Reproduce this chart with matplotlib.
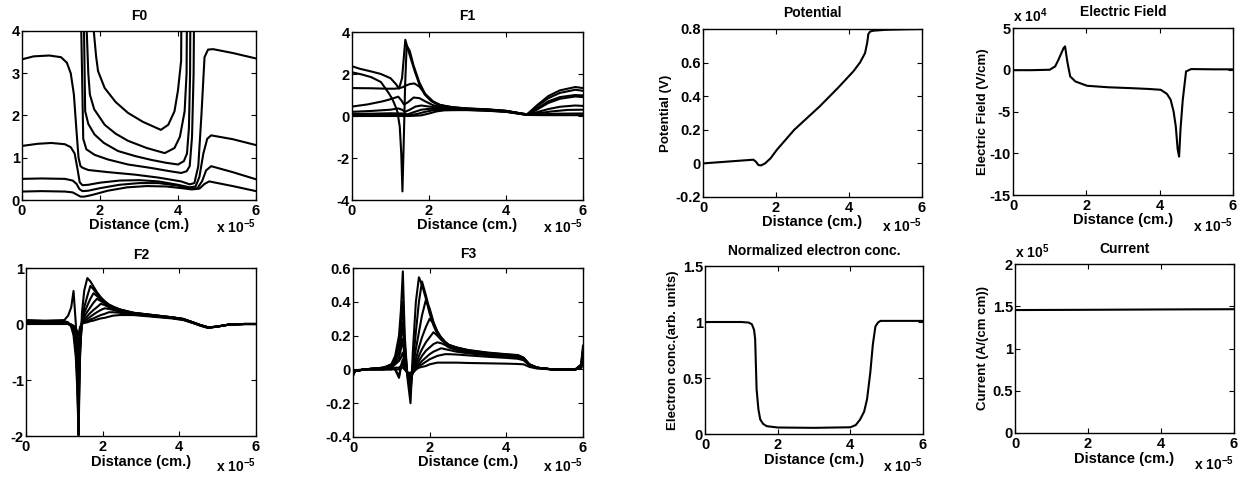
import matplotlib
matplotlib.use("Agg")
import matplotlib.pyplot as plt
from matplotlib.ticker import FuncFormatter

plt.rcParams['font.family'] = ['Liberation Sans', 'DejaVu Sans']
plt.rcParams['font.weight'] = 'bold'
plt.rcParams['axes.unicode_minus'] = False
plt.rcParams['mathtext.fontset'] = 'custom'
plt.rcParams['mathtext.bf'] = 'Liberation Sans:bold'
plt.rcParams['mathtext.rm'] = 'Liberation Sans:bold'
plt.rcParams['mathtext.default'] = 'bf'

# ---------------- data (distance in units of 1e-5 cm) ----------------
# F0
f0_c1_x = [0, 0.3, 0.7, 1.0, 1.15, 1.25, 1.33, 1.40, 1.45, 1.50, 1.56, 1.7, 2.2, 2.9, 3.5, 4.08, 4.3, 4.42, 4.52, 4.60, 4.68, 4.77, 4.9, 5.4, 6.0]
f0_c1_y = [3.33, 3.40, 3.42, 3.38, 3.25, 3.0, 2.5, 1.6, 1.0, 0.8, 0.76, 0.71, 0.66, 0.60, 0.53, 0.44, 0.37, 0.40, 0.8, 2.0, 3.38, 3.56, 3.57, 3.48, 3.35]
f0_c2_x = [0, 0.4, 0.75, 1.1, 1.25, 1.35, 1.42, 1.48, 1.55, 1.7, 2.0, 2.5, 3.0, 3.5, 4.0, 4.3, 4.45, 4.55, 4.65, 4.75, 4.85, 5.4, 6.0]
f0_c2_y = [1.28, 1.33, 1.35, 1.32, 1.25, 1.1, 0.75, 0.42, 0.35, 0.36, 0.41, 0.46, 0.47, 0.44, 0.36, 0.30, 0.32, 0.55, 1.1, 1.45, 1.53, 1.44, 1.30]
f0_c3_x = [0, 0.5, 1.1, 1.3, 1.4, 1.47, 1.55, 1.7, 2.0, 2.5, 3.0, 3.5, 4.0, 4.3, 4.5, 4.62, 4.72, 4.85, 5.4, 6.0]
f0_c3_y = [0.50, 0.51, 0.50, 0.46, 0.38, 0.26, 0.21, 0.22, 0.28, 0.36, 0.40, 0.40, 0.34, 0.27, 0.28, 0.45, 0.70, 0.80, 0.66, 0.49]
f0_c4_x = [0, 0.5, 1.1, 1.3, 1.42, 1.5, 1.6, 1.8, 2.2, 2.7, 3.2, 3.7, 4.1, 4.35, 4.55, 4.68, 4.8, 5.4, 6.0]
f0_c4_y = [0.20, 0.21, 0.20, 0.18, 0.12, 0.08, 0.08, 0.12, 0.22, 0.30, 0.33, 0.32, 0.28, 0.25, 0.27, 0.38, 0.44, 0.33, 0.21]
f0_u4_x = [1.40, 1.50, 1.54, 1.57, 1.65, 1.86, 2.2, 2.72, 3.3, 3.8, 4.08, 4.22, 4.30, 4.36, 4.40, 4.45]
f0_u4_y = [9, 5, 3.0, 1.45, 1.2, 1.07, 0.96, 0.84, 0.76, 0.68, 0.64, 0.68, 0.8, 1.5, 3.0, 9]
f0_u3_x = [1.56, 1.59, 1.62, 1.7, 1.86, 2.1, 2.46, 2.9, 3.31, 3.7, 4.0, 4.15, 4.23, 4.28, 4.31, 4.34]
f0_u3_y = [9, 4.0, 2.1, 1.8, 1.55, 1.35, 1.16, 1.04, 0.95, 0.88, 0.84, 0.92, 1.1, 1.7, 3.0, 9]
f0_u2_x = [1.63, 1.66, 1.70, 1.74, 1.85, 2.12, 2.4, 2.72, 3.2, 3.66, 3.91, 4.05, 4.17, 4.22, 4.26]
f0_u2_y = [9, 4.0, 3.0, 2.5, 2.15, 1.78, 1.57, 1.40, 1.23, 1.11, 1.23, 1.5, 2.1, 3.0, 9]
f0_u1_x = [1.80, 1.84, 1.90, 1.95, 2.12, 2.4, 2.72, 3.1, 3.56, 3.75, 3.91, 4.0, 4.08, 4.12]
f0_u1_y = [9, 4.0, 3.4, 3.05, 2.65, 2.32, 2.06, 1.85, 1.66, 1.78, 2.1, 2.6, 3.29, 9]

# F1
f1_a_x = [0, 0.2, 0.5, 0.75, 1.0, 1.15, 1.22, 1.30, 1.385, 1.45, 1.55, 1.63, 1.75, 1.89, 2.05, 2.23, 2.6, 3.0, 3.5, 4.0, 4.3, 4.55, 4.8, 5.1, 5.4, 5.8, 6.0]
f1_a_y = [2.37, 2.25, 2.12, 2.0, 1.8, 1.5, 1.3, 1.8, 3.63, 3.2, 2.6, 2.13, 1.5, 1.02, 0.72, 0.54, 0.42, 0.36, 0.32, 0.25, 0.15, 0.08, 0.5, 0.95, 1.22, 1.38, 1.33]
f1_b_x = [0, 0.25, 0.5, 0.75, 0.95, 1.05, 1.12, 1.18, 1.24, 1.28, 1.31, 1.34, 1.38, 1.42, 1.5, 1.6, 1.75, 1.9, 2.1, 2.3, 2.6, 3.0, 3.5, 4.0, 4.3, 4.55, 4.8, 5.1, 5.4, 5.8, 6.0]
f1_b_y = [2.08, 1.98, 1.85, 1.62, 1.1, 0.8, 0.5, 0.2, -0.5, -1.8, -3.59, -1.5, 1.5, 3.35, 3.1, 2.4, 1.6, 1.05, 0.68, 0.5, 0.4, 0.35, 0.31, 0.24, 0.15, 0.08, 0.45, 0.85, 1.1, 1.25, 1.2]
f1_c_x = [0, 0.5, 0.9, 1.1, 1.2, 1.3, 1.4, 1.5, 1.62, 1.75, 1.9, 2.1, 2.3, 2.6, 3.0, 3.5, 4.0, 4.3, 4.55, 4.8, 5.1, 5.4, 5.8, 6.0]
f1_c_y = [1.33, 1.32, 1.30, 1.30, 1.32, 1.36, 1.45, 1.52, 1.55, 1.4, 1.05, 0.7, 0.52, 0.42, 0.35, 0.31, 0.24, 0.15, 0.07, 0.35, 0.7, 0.9, 1.0, 0.98]
f1_d_x = [0, 0.4, 0.8, 1.0, 1.2, 1.28, 1.35, 1.45, 1.6, 1.75, 1.9, 2.1, 2.3, 2.6, 3.0, 3.5, 4.0, 4.3, 4.55, 4.8, 5.1, 5.4, 5.8, 6.0]
f1_d_y = [0.45, 0.55, 0.7, 0.8, 0.92, 0.75, 0.55, 0.65, 0.88, 0.85, 0.7, 0.52, 0.42, 0.36, 0.32, 0.29, 0.23, 0.14, 0.06, 0.3, 0.62, 0.82, 0.93, 0.9]
f1_e_x = [0, 0.5, 1.0, 1.2, 1.3, 1.38, 1.5, 1.65, 1.8, 2.0, 2.3, 2.6, 3.0, 3.5, 4.0, 4.3, 4.55, 4.8, 5.1, 5.4, 5.8, 6.0]
f1_e_y = [0.2, 0.24, 0.3, 0.36, 0.3, 0.2, 0.3, 0.45, 0.5, 0.45, 0.38, 0.34, 0.31, 0.28, 0.22, 0.14, 0.06, 0.18, 0.33, 0.44, 0.5, 0.48]
f1_f_x = [0, 0.5, 1.0, 1.3, 1.45, 1.6, 1.8, 2.0, 2.2, 2.5, 3.0, 3.5, 4.0, 4.3, 4.55, 4.8, 5.2, 5.6, 6.0]
f1_f_y = [0.1, 0.11, 0.13, 0.12, 0.08, 0.18, 0.3, 0.34, 0.34, 0.32, 0.3, 0.27, 0.21, 0.13, 0.06, 0.12, 0.22, 0.29, 0.3]
f1_g_x = [0, 0.8, 1.3, 1.5, 1.7, 1.9, 2.1, 2.3, 2.6, 3.0, 3.5, 4.0, 4.3, 4.55, 4.8, 5.3, 6.0]
f1_g_y = [0.05, 0.06, 0.06, 0.04, 0.1, 0.2, 0.27, 0.3, 0.3, 0.29, 0.26, 0.2, 0.12, 0.05, 0.07, 0.11, 0.12]
f1_h_x = [0, 1.0, 1.5, 1.8, 2.0, 2.2, 2.4, 2.7, 3.0, 3.5, 4.0, 4.3, 4.55, 5.0, 6.0]
f1_h_y = [0.0, 0.0, 0.0, 0.03, 0.12, 0.22, 0.27, 0.28, 0.28, 0.25, 0.2, 0.12, 0.05, 0.04, 0.04]

# F2 (common x grid)
f2_x = [0, 0.5, 1.0, 1.1, 1.18, 1.24, 1.3, 1.34, 1.37, 1.41, 1.46, 1.52, 1.6, 1.68, 1.76, 1.85, 1.95, 2.05, 2.16, 2.28, 2.45, 2.8, 3.3, 3.8, 4.1, 4.35, 4.55, 4.75, 4.95, 5.3, 5.7, 6.0]
f2_c0 = [0.07, 0.06, 0.07, 0.15, 0.3, 0.59, 0.0, -1.2, -1.99, -0.6, 0.2, 0.6, 0.82, 0.76, 0.67, 0.57, 0.48, 0.41, 0.35, 0.31, 0.26, 0.2, 0.16, 0.12, 0.09, 0.03, -0.02, -0.06, -0.05, -0.01, 0.0, 0.0]
f2_c1 = [0.06, 0.05, 0.05, 0.03, -0.05, -0.2, -0.6, -1.2, -1.75, -0.5, 0.05, 0.3, 0.5, 0.68, 0.62, 0.54, 0.46, 0.4, 0.34, 0.3, 0.26, 0.2, 0.16, 0.12, 0.09, 0.03, -0.02, -0.06, -0.05, -0.01, 0.0, 0.0]
f2_c2 = [0.05, 0.05, 0.04, 0.02, -0.04, -0.15, -0.45, -0.95, -1.45, -0.4, 0.04, 0.2, 0.33, 0.45, 0.55, 0.5, 0.44, 0.39, 0.33, 0.29, 0.25, 0.2, 0.16, 0.12, 0.09, 0.03, -0.02, -0.06, -0.05, -0.01, 0.0, 0.0]
f2_c3 = [0.04, 0.04, 0.03, 0.01, -0.03, -0.12, -0.35, -0.75, -1.15, -0.3, 0.03, 0.13, 0.22, 0.3, 0.38, 0.45, 0.41, 0.37, 0.32, 0.28, 0.24, 0.19, 0.15, 0.12, 0.09, 0.03, -0.02, -0.06, -0.05, -0.01, 0.0, 0.0]
f2_c4 = [0.03, 0.03, 0.02, 0.0, -0.03, -0.09, -0.25, -0.55, -0.85, -0.22, 0.02, 0.08, 0.14, 0.2, 0.25, 0.3, 0.36, 0.34, 0.3, 0.27, 0.23, 0.19, 0.15, 0.11, 0.08, 0.03, -0.02, -0.06, -0.05, -0.01, 0.0, 0.0]
f2_c5 = [0.02, 0.02, 0.01, 0.0, -0.02, -0.07, -0.18, -0.38, -0.6, -0.15, 0.01, 0.05, 0.09, 0.13, 0.17, 0.21, 0.25, 0.28, 0.27, 0.25, 0.22, 0.18, 0.14, 0.11, 0.08, 0.02, -0.02, -0.06, -0.05, -0.01, 0.0, 0.0]
f2_c6 = [0.01, 0.01, 0.01, 0.0, -0.01, -0.05, -0.12, -0.25, -0.38, -0.1, 0.01, 0.03, 0.05, 0.08, 0.1, 0.13, 0.16, 0.18, 0.21, 0.21, 0.2, 0.17, 0.14, 0.11, 0.08, 0.02, -0.03, -0.07, -0.05, -0.01, 0.0, 0.0]
f2_c7 = [0.0, 0.0, 0.0, 0.0, -0.01, -0.03, -0.07, -0.14, -0.2, -0.05, 0.0, 0.02, 0.03, 0.05, 0.06, 0.08, 0.1, 0.11, 0.13, 0.15, 0.16, 0.16, 0.13, 0.1, 0.07, 0.02, -0.03, -0.07, -0.05, -0.01, 0.0, 0.0]

# F3 (common x grid)
f3_x = [0, 0.05, 0.3, 0.8, 1.0, 1.1, 1.2, 1.25, 1.3, 1.35, 1.42, 1.5, 1.56, 1.64, 1.72, 1.8, 1.9, 2.0, 2.1, 2.2, 2.3, 2.4, 2.5, 2.7, 3.0, 3.5, 4.0, 4.3, 4.45, 4.6, 4.8, 5.2, 5.8, 5.95, 6.0]
f3_c0 = [-0.04, -0.01, 0.0, 0.01, 0.03, 0.08, 0.2, 0.35, 0.58, 0.2, -0.05, -0.2, 0.1, 0.4, 0.545, 0.5, 0.42, 0.33, 0.26, 0.21, 0.18, 0.16, 0.145, 0.13, 0.115, 0.1, 0.09, 0.085, 0.07, 0.03, 0.01, 0.0, 0.0, 0.03, 0.14]
f3_c1 = [-0.035, -0.01, 0.0, 0.01, 0.03, 0.06, 0.14, 0.25, 0.4, 0.15, -0.03, -0.14, 0.03, 0.22, 0.4, 0.52, 0.44, 0.35, 0.27, 0.22, 0.185, 0.16, 0.145, 0.13, 0.113, 0.098, 0.088, 0.083, 0.068, 0.03, 0.01, 0.0, 0.0, 0.025, 0.12]
f3_c2 = [-0.03, -0.01, 0.0, 0.01, 0.02, 0.05, 0.1, 0.17, 0.28, 0.1, -0.03, -0.1, 0.0, 0.12, 0.22, 0.32, 0.41, 0.36, 0.28, 0.225, 0.19, 0.165, 0.145, 0.128, 0.11, 0.096, 0.086, 0.08, 0.066, 0.03, 0.01, 0.0, 0.0, 0.02, 0.1]
f3_c3 = [-0.03, -0.01, 0.0, 0.01, 0.02, 0.04, 0.07, 0.12, 0.18, 0.06, -0.03, -0.07, -0.02, 0.06, 0.13, 0.19, 0.25, 0.30, 0.27, 0.22, 0.185, 0.16, 0.14, 0.125, 0.108, 0.094, 0.084, 0.078, 0.064, 0.03, 0.01, 0.0, 0.0, 0.02, 0.09]
f3_c4 = [-0.025, -0.01, 0.0, 0.01, 0.01, 0.03, 0.05, 0.07, 0.1, 0.03, -0.03, -0.05, -0.02, 0.03, 0.08, 0.12, 0.16, 0.19, 0.22, 0.2, 0.175, 0.155, 0.137, 0.12, 0.105, 0.092, 0.082, 0.076, 0.062, 0.028, 0.01, 0.0, 0.0, 0.015, 0.08]
f3_c5 = [-0.025, -0.01, 0.0, 0.0, 0.01, 0.0, -0.04, 0.02, 0.06, 0.02, -0.02, -0.04, -0.02, 0.01, 0.05, 0.08, 0.11, 0.13, 0.15, 0.16, 0.155, 0.145, 0.13, 0.115, 0.1, 0.088, 0.078, 0.072, 0.06, 0.027, 0.01, 0.0, 0.0, 0.015, 0.07]
f3_c6 = [-0.02, -0.01, 0.0, 0.0, 0.01, 0.0, -0.05, 0.01, 0.04, 0.01, -0.02, -0.04, -0.02, 0.0, 0.03, 0.05, 0.07, 0.09, 0.105, 0.115, 0.125, 0.12, 0.115, 0.105, 0.095, 0.084, 0.075, 0.069, 0.058, 0.026, 0.01, 0.0, 0.0, 0.012, 0.06]
f3_c7 = [-0.02, -0.01, 0.0, 0.0, 0.0, 0.01, 0.01, 0.02, 0.03, 0.0, -0.02, -0.03, -0.02, 0.0, 0.02, 0.03, 0.045, 0.06, 0.07, 0.08, 0.085, 0.09, 0.09, 0.088, 0.083, 0.075, 0.068, 0.063, 0.054, 0.025, 0.01, 0.0, 0.0, 0.01, 0.05]
f3_c8 = [-0.015, -0.005, 0.0, 0.0, 0.0, 0.0, 0.0, 0.01, 0.01, 0.0, -0.02, -0.02, -0.01, 0.0, 0.01, 0.015, 0.02, 0.03, 0.035, 0.04, 0.04, 0.04, 0.04, 0.04, 0.038, 0.036, 0.034, 0.032, 0.03, 0.015, 0.005, 0.0, 0.0, 0.008, 0.04]

# Potential (V)
pot_x = [0, 0.5, 1.0, 1.38, 1.45, 1.52, 1.59, 1.7, 1.85, 2.02, 2.5, 3.2, 3.7, 4.12, 4.3, 4.44, 4.5, 4.53, 4.58, 4.67, 5.0, 5.5, 6.0]
pot_y = [0.0, 0.008, 0.016, 0.022, 0.01, -0.01, -0.012, 0.0, 0.03, 0.08, 0.2, 0.34, 0.45, 0.548, 0.6, 0.657, 0.72, 0.77, 0.785, 0.79, 0.795, 0.798, 0.8]

# Electric field (x 1e4 V/cm)
ef_x = [0, 0.5, 1.0, 1.15, 1.24, 1.32, 1.38, 1.42, 1.48, 1.56, 1.7, 2.02, 2.6, 3.2, 3.7, 4.03, 4.2, 4.3, 4.38, 4.44, 4.49, 4.53, 4.57, 4.63, 4.72, 4.86, 5.5, 6.0]
ef_y = [-0.05, -0.05, 0.0, 0.4, 1.2, 2.0, 2.6, 2.8, 1.0, -0.8, -1.4, -1.92, -2.1, -2.2, -2.3, -2.4, -2.9, -3.6, -5.0, -6.8, -9.5, -10.4, -7.0, -3.6, -0.2, 0.08, 0.05, 0.05]

# Normalized electron concentration
ec_x = [0, 0.5, 1.0, 1.2, 1.29, 1.35, 1.38, 1.42, 1.47, 1.52, 1.6, 1.7, 2.0, 3.0, 4.0, 4.15, 4.27, 4.38, 4.46, 4.55, 4.62, 4.69, 4.76, 4.83, 5.5, 6.0]
ec_y = [1.0, 1.0, 1.0, 0.995, 0.98, 0.93, 0.85, 0.4, 0.22, 0.13, 0.09, 0.07, 0.058, 0.055, 0.06, 0.08, 0.13, 0.2, 0.31, 0.55, 0.8, 0.96, 0.995, 1.01, 1.01, 1.01]

# Current (x 1e5 A/(cm cm))
cur_x = [0, 2, 4, 6]
cur_y = [1.455, 1.458, 1.462, 1.465]

xticks = [0, 2, 4, 6]
f0_yticks = [0, 1, 2, 3, 4]
f1_yticks = [-4, -2, 0, 2, 4]
f2_yticks = [-2, -1, 0, 1]
f3_yticks = [-0.4, -0.2, 0, 0.2, 0.4, 0.6]
pot_yticks = [-0.2, 0, 0.2, 0.4, 0.6, 0.8]
ef_yticks = [-15, -10, -5, 0, 5]
ec_yticks = [0, 0.5, 1, 1.5]
cur_yticks = [0, 0.5, 1, 1.5, 2]

# ---------------- figure ----------------
W, H = 1249, 479
fig = plt.figure(figsize=(W / 100, H / 100), dpi=100)

def make_ax(l, t, r, b):
    return fig.add_axes([l / W, 1 - b / H, (r - l) / W, (b - t) / H])

fmt = FuncFormatter(lambda v, p: ('%g' % v).replace('\u2212', '-'))
LW = 1.5
TICK_FS = 10.5

def style(ax, ylim, yticks, title, tpad, xl_y, xm_y):
    ax.set_xlim(0, 6)
    ax.set_ylim(*ylim)
    ax.set_xticks(xticks)
    ax.set_yticks(yticks)
    ax.xaxis.set_major_formatter(fmt)
    ax.yaxis.set_major_formatter(fmt)
    ax.tick_params(direction='in', top=True, right=True, length=3.5, width=0.8,
                   labelsize=TICK_FS)
    ax.tick_params(axis='x', pad=3)
    ax.tick_params(axis='y', pad=1.5)
    for s in ax.spines.values():
        s.set_linewidth(1.0)
    ax.set_title(title, fontsize=10, fontweight='bold', pad=tpad)
    ax.set_xlabel('Distance (cm.)', fontsize=10.5, fontweight='bold')
    ax.xaxis.set_label_coords(0.5, xl_y)
    ax.xaxis.label.set_va('top')
    ax.text(1.0, xm_y, r'x 10$^{-5}$', transform=ax.transAxes, ha='right',
            va='baseline', fontsize=10, fontweight='bold')

# F0
ax = make_ax(22, 31, 256, 200)
for xs, ys in [(f0_c1_x, f0_c1_y), (f0_c2_x, f0_c2_y), (f0_c3_x, f0_c3_y), (f0_c4_x, f0_c4_y),
               (f0_u4_x, f0_u4_y), (f0_u3_x, f0_u3_y), (f0_u2_x, f0_u2_y), (f0_u1_x, f0_u1_y)]:
    ax.plot(xs, ys, color='black', lw=LW)
style(ax, (0, 4), f0_yticks, 'F0', 8, -0.105, -0.195)

# F1
ax = make_ax(352, 32, 583, 200)
for xs, ys in [(f1_a_x, f1_a_y), (f1_b_x, f1_b_y), (f1_c_x, f1_c_y), (f1_d_x, f1_d_y),
               (f1_e_x, f1_e_y), (f1_f_x, f1_f_y), (f1_g_x, f1_g_y), (f1_h_x, f1_h_y)]:
    ax.plot(xs, ys, color='black', lw=LW)
style(ax, (-4, 4), f1_yticks, 'F1', 8.5, -0.105, -0.196)

# F2
ax = make_ax(26, 268, 256, 436)
for ys in [f2_c0, f2_c1, f2_c2, f2_c3, f2_c4, f2_c5, f2_c6, f2_c7]:
    ax.plot(f2_x, ys, color='black', lw=LW)
style(ax, (-2, 1), f2_yticks, 'F2', 6.3, -0.115, -0.212)

# F3
ax = make_ax(353, 268, 583, 437)
for ys in [f3_c0, f3_c1, f3_c2, f3_c3, f3_c4, f3_c5, f3_c6, f3_c7, f3_c8]:
    ax.plot(f3_x, ys, color='black', lw=LW)
style(ax, (-0.4, 0.6), f3_yticks, 'F3', 7, -0.105, -0.205)

# Potential
ax = make_ax(703, 29, 922, 197)
ax.plot(pot_x, pot_y, color='black', lw=LW)
style(ax, (-0.2, 0.8), pot_yticks, 'Potential', 8.6, -0.108, -0.206)
ax.set_ylabel('Potential (V)', fontsize=9.5, fontweight='bold')
ax.yaxis.set_label_coords(-0.14, 0.5)

# Electric field
ax = make_ax(1013, 28, 1233, 195)
ax.plot(ef_x, ef_y, color='black', lw=LW)
style(ax, (-15, 5), ef_yticks, 'Electric Field', 8.6, -0.11, -0.22)
ax.set_ylabel('Electric Field (V/cm)', fontsize=9.5, fontweight='bold')
ax.yaxis.set_label_coords(-0.11, 0.5)
ax.text(0.0, 1.038, r'x 10$^{4}$', transform=ax.transAxes, ha='left', va='baseline',
        fontsize=10, fontweight='bold')

# Electron concentration
ax = make_ax(705, 266, 923, 434)
ax.plot(ec_x, ec_y, color='black', lw=LW)
style(ax, (0, 1.5), ec_yticks, 'Normalized electron conc.', 8, -0.115, -0.224)
ax.set_ylabel('Electron conc.(arb. units)', fontsize=9.5, fontweight='bold')
ax.yaxis.set_label_coords(-0.118, 0.5)

# Current
ax = make_ax(1015, 264, 1234, 433)
ax.plot(cur_x, cur_y, color='black', lw=LW)
style(ax, (0, 2), cur_yticks, 'Current', 8, -0.115, -0.219)
ax.set_ylabel('Current (A/(cm cm))', fontsize=9.5, fontweight='bold')
ax.yaxis.set_label_coords(-0.118, 0.5)
ax.text(0.0, 1.034, r'x 10$^{5}$', transform=ax.transAxes, ha='left', va='baseline',
        fontsize=10, fontweight='bold')

fig.savefig('out.png', dpi=100, facecolor='white')
